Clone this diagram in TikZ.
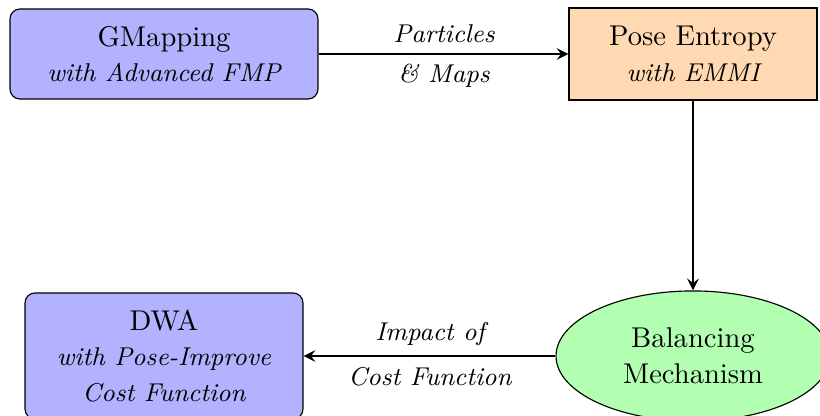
\documentclass[tikz,border=0pt]{standalone}
\usepackage{tikz}
\usetikzlibrary{shapes.geometric,arrows.meta}
\tikzset{
  px/.style={x=0.3497pt,y=-0.3497pt},
  txt/.style={font=\fontsize{10}{12.5}\selectfont, align=center, inner sep=0pt},
  bluebox/.style={txt, draw=black, fill=blue!30, rounded corners=3.5pt},
  orangebox/.style={txt, draw=black, fill=orange!30},
  greenell/.style={txt, draw=black, fill=green!30, ellipse},
  conn/.style={-stealth, thick},
  elab/.style={font=\fontsize{9}{11}\selectfont\itshape, inner sep=0pt}
}
\newcommand{\subl}[1]{{\fontsize{9}{11}\selectfont\itshape #1}}
\begin{document}
\begin{tikzpicture}[px]
\useasboundingbox (0,0) rectangle (820,416);
\node[bluebox, minimum width=107.7pt, minimum height=31.5pt] (gm) at (164,54)
  {GMapping\\ \subl{with Advanced FMP}};
\node[orangebox, minimum width=86.7pt, minimum height=32.2pt] (pe) at (693,54)
  {Pose Entropy\\ \subl{with EMMI}};
\node[greenell, minimum width=95.8pt, minimum height=45.5pt] (bm) at (693,356)
  {Balancing\\ Mechanism};
\node[bluebox, minimum width=97.2pt, minimum height=44.1pt] (dwa) at (164,356)
  {DWA\\ \subl{with Pose-Improve}\\ \subl{Cost Function}};
\draw[conn] (gm.east) -- (pe.west);
\draw[conn] (pe.south) -- (bm.north);
\draw[conn] (bm.west) -- (dwa.east);
\node[elab, anchor=base] (l1) at (444,43) {Particles};
\node[elab, anchor=base] (l2) at (444,83) {\& Maps};
\node[elab, anchor=base] (l3) at (430,340) {Impact of};
\node[elab, anchor=base] (l4) at (430,385) {Cost Function};
\end{tikzpicture}
\end{document}
